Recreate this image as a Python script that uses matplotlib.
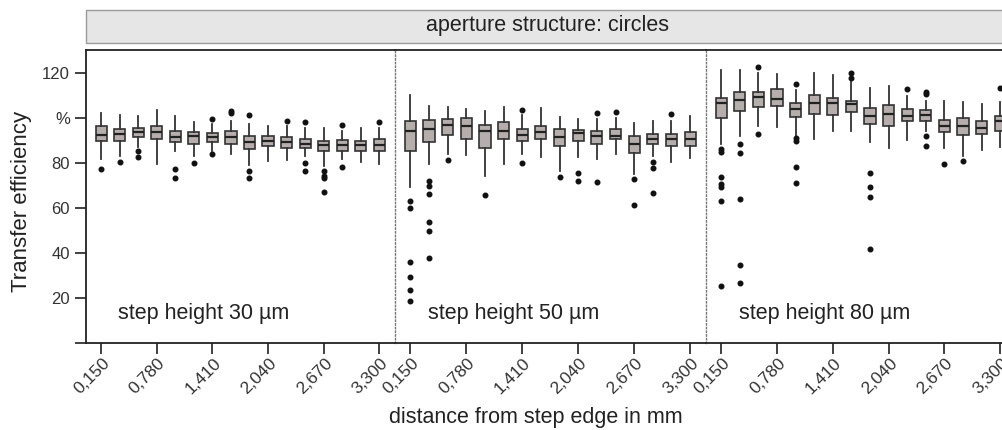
import matplotlib
matplotlib.use("Agg")
import matplotlib.pyplot as plt
from matplotlib.patches import Rectangle
from matplotlib.transforms import ScaledTranslation

plt.rcParams['font.family'] = ['Liberation Sans', 'DejaVu Sans']

# distances from step edge (mm), 16 positions per panel
distances = ['0,150', '0,360', '0,570', '0,780', '0,990', '1,200', '1,410', '1,620',
             '1,830', '2,040', '2,250', '2,460', '2,670', '2,880', '3,090', '3,300']

# step height 30 µm
med_30 = [92.5, 92.8, 93.8, 93.6, 91.3, 91.9, 91.5, 91.3, 89.1, 89.5, 89.2, 88.4, 87.7, 87.7, 87.7, 87.7]
q1_30 = [89.5, 89.8, 91.3, 90.6, 89.2, 88.5, 89.2, 88.5, 86.2, 87.3, 86.6, 86.4, 85.4, 85.1, 85.3, 85.1]
q3_30 = [96.1, 95.0, 95.4, 96.1, 93.9, 93.6, 93.2, 93.9, 92.0, 92.0, 91.4, 90.3, 89.8, 89.9, 89.5, 90.3]
lo_30 = [81.5, 83.0, 87.0, 79.3, 85.1, 82.9, 85.1, 83.7, 79.0, 80.7, 81.1, 82.9, 78.5, 81.5, 80.4, 79.3]
hi_30 = [102.1, 101.3, 100.8, 103.5, 100.5, 97.9, 97.3, 98.3, 97.3, 96.1, 96.1, 95.4, 95.4, 93.9, 95.4, 95.4]
out_30 = [[77.1], [80.3], [85.0, 82.6], [], [77.1, 73.4], [80.0], [99.4, 83.7], [103.0, 102.0],
          [101.3, 76.1, 73.4], [], [98.3], [98.0, 80.0, 76.3], [76.3, 74.1, 73.1, 66.8],
          [96.9, 78.1], [], [98.0]]

# step height 50 µm
med_50 = [93.9, 95.1, 96.9, 96.1, 93.9, 93.9, 92.5, 93.5, 91.4, 93.2, 91.7, 92.0, 88.5, 90.3, 90.3, 90.6]
q1_50 = [85.1, 89.1, 92.1, 90.7, 86.6, 90.3, 89.5, 90.3, 87.3, 89.5, 88.5, 90.3, 84.4, 88.4, 87.6, 87.3]
q3_50 = [98.6, 99.1, 99.4, 99.8, 96.9, 97.9, 95.0, 96.1, 95.1, 94.7, 94.2, 95.1, 91.7, 92.9, 92.9, 93.6]
lo_50 = [69.0, 79.3, 83.7, 83.3, 74.1, 79.3, 83.7, 82.6, 76.3, 82.6, 81.8, 84.0, 74.9, 82.9, 80.4, 82.2]
hi_50 = [110.0, 105.2, 104.5, 103.8, 103.1, 104.5, 101.3, 104.2, 100.1, 99.4, 99.4, 99.8, 97.6, 98.6, 98.6, 100.8]
out_50 = [[63.1, 59.9, 36.0, 29.1, 23.5, 18.8], [71.9, 69.7, 66.1, 53.6, 49.5, 37.5], [81.1], [],
          [65.6], [], [103.5, 80.0], [], [73.8], [75.6, 71.9], [102.0, 71.5], [102.3],
          [72.7, 61.3], [80.3, 77.8, 66.5], [101.6], []]

# step height 80 µm
med_80 = [106.4, 107.9, 109.0, 108.3, 103.9, 106.4, 106.4, 106.0, 100.9, 101.7, 100.8, 101.3, 96.5, 96.4, 95.4, 98.3]
q1_80 = [99.8, 103.0, 104.9, 105.2, 100.2, 101.6, 101.3, 102.3, 97.2, 96.1, 98.3, 98.7, 93.5, 92.5, 92.8, 94.2]
q3_80 = [108.9, 111.2, 111.2, 112.6, 106.4, 110.0, 108.9, 107.4, 104.2, 105.7, 103.8, 103.5, 99.1, 99.8, 98.6, 100.5]
lo_80 = [88.1, 92.0, 96.1, 95.8, 91.7, 90.3, 94.2, 94.2, 89.1, 86.6, 89.9, 93.9, 86.6, 82.9, 85.5, 87.0]
hi_80 = [121.0, 121.0, 119.6, 119.3, 112.3, 119.9, 118.9, 115.9, 113.3, 114.1, 109.6, 107.5, 107.5, 107.1, 106.0, 107.1]
out_80 = [[86.2, 84.7, 73.8, 70.5, 69.0, 63.1, 25.3], [88.1, 84.4, 63.9, 34.5, 26.5], [122.5, 92.8], [],
          [114.9, 91.0, 89.8, 78.2, 70.8], [], [], [120.0, 117.4],
          [75.6, 69.0, 64.6, 41.5], [], [112.6], [111.5, 110.3, 92.0, 87.6],
          [79.6], [80.7], [], [113.0]]

panels = [
    ('step height 30 µm', med_30, q1_30, q3_30, lo_30, hi_30, out_30),
    ('step height 50 µm', med_50, q1_50, q3_50, lo_50, hi_50, out_50),
    ('step height 80 µm', med_80, q1_80, q3_80, lo_80, hi_80, out_80),
]

W, H = 1002, 430
fig = plt.figure(figsize=(W / 100, H / 100), dpi=100)

# panel edges in pixels (the last panel runs past the right edge, as in the original)
edges = [86, 395, 706, 1016]
top_px, bot_px = 50, 343
dark = '#333333'
shift = ScaledTranslation(0.06, 0, fig.dpi_scale_trans)

for k, (label, med, q1, q3, lo, hi, out) in enumerate(panels):
    x0, x1 = edges[k], edges[k + 1]
    ax = fig.add_axes([x0 / W, 1 - bot_px / H, (x1 - x0) / W, (bot_px - top_px) / H])

    stats = []
    for i in range(len(distances)):
        stats.append({'med': med[i], 'q1': q1[i], 'q3': q3[i],
                      'whislo': lo[i], 'whishi': hi[i], 'fliers': out[i]})

    ax.bxp(stats, positions=range(len(distances)), widths=0.6, patch_artist=True,
           showcaps=False,
           boxprops=dict(facecolor='#b5aeac', edgecolor=dark, linewidth=1.2),
           medianprops=dict(color='#222222', linewidth=1.6),
           whiskerprops=dict(color=dark, linewidth=1.3),
           flierprops=dict(marker='o', markerfacecolor='#111111', markeredgecolor='#111111',
                           markersize=3.3, linestyle='none'))

    ax.set_xlim(-0.82, 15.85)
    ax.set_ylim(0, 130)

    # rotated tick labels, every third distance
    ax.set_xticks(range(0, 16, 3))
    ax.set_xticklabels([distances[i] for i in range(0, 16, 3)], rotation=45,
                       ha='right', va='center', rotation_mode='anchor', fontsize=12.5, color=dark)
    ax.tick_params(axis='x', direction='out', length=8, width=1.3, color=dark, pad=5)
    for lbl in ax.get_xticklabels():
        lbl.set_transform(lbl.get_transform() + shift)

    for s in ['top', 'bottom']:
        ax.spines[s].set_color('#222222')
        ax.spines[s].set_linewidth(1.3)
    ax.spines['right'].set_visible(False)

    if k == 0:
        ax.set_yticks([0, 20, 40, 60, 80, 100, 120])
        ax.set_yticklabels(['', '20', '40', '60', '80', '%', '120'], fontsize=12, color=dark)
        ax.tick_params(axis='y', direction='out', length=8, width=1.3, color=dark)
        ax.spines['left'].set_color('#222222')
        ax.spines['left'].set_linewidth(1.3)
    else:
        ax.set_yticks([])
        ax.spines['left'].set_color('#777777')
        ax.spines['left'].set_linewidth(1.0)
        ax.spines['left'].set_linestyle(':')

    ax.text(0.105, 0.10, label, transform=ax.transAxes, fontsize=15.5,
            color='#222222', ha='left', va='center')

# strip header
fig.add_artist(Rectangle((86 / W, 1 - 43 / H), (1016 - 86) / W, 33 / H,
                         transform=fig.transFigure, facecolor='#e6e6e6',
                         edgecolor='#9a9a9a', linewidth=1.0))
fig.text(548 / W, 1 - 26 / H, 'aperture structure: circles', fontsize=15.5,
         color='#222222', ha='center', va='center')

fig.text(22 / W, 1 - 201 / H, 'Transfer efficiency', rotation=90, fontsize=16,
         color='#222222', ha='center', va='center')
fig.text(536 / W, 1 - 418 / H, 'distance from step edge in mm', fontsize=15.5,
         color='#222222', ha='center', va='center')

fig.savefig('out.png', dpi=100)
